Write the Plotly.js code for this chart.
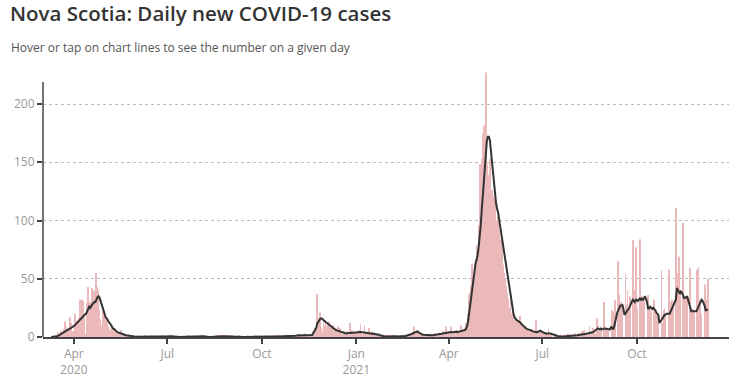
<!DOCTYPE html>
<html>
<head>
<meta charset="utf-8">
<script src="https://cdn.plot.ly/plotly-3.0.1.min.js"></script>
<style>
  html, body { margin: 0; padding: 0; background: #fff; }
  #chart { width: 756px; height: 388px; }
</style>
</head>
<body>
<div id="chart"></div>
<script>
// ---- Data (daily new cases & 7-day average), Nova Scotia ----
const startDate = '2020-03-10';

const cases2020Mar = [0,0,0,0,0,1,2,4,2,5,6,3,7,13,9,7,5,6,17,12,5,5];
const cases2020Apr = [5,20,10,14,3,17,32,17,32,31,20,2,3,29,43,27,30,25,42,24,40,36,55,43,40,23,15,10,23,19];
const cases2020May = [12,17,14,9,7,6,6,10,3,7,4,5,1,3,3,2,6,0,1,3,0,1,2,0,1,2,1,0,1,0,0];
const cases2020Jun = [0,1,0,0,0,0,0,0,1,0,0,0,0,0,0,0,0,0,0,0,0,0,0,0,0,1,0,0,0,0];
const cases2020Jul = [1,0,2,1,0,1,0,0,0,0,0,0,0,0,0,0,0,0,0,0,1,0,0,0,0,0,0,0,0,0,0];
const cases2020Aug = [0,1,2,1,1,0,0,0,0,0,0,0,0,0,0,0,0,1,0,2,1,0,1,0,0,1,0,1,0,0,1];
const cases2020Sep = [0,1,0,0,0,0,0,0,1,0,0,0,0,0,0,0,1,0,0,0,0,0,0,0,1,0,0,0,0,0];
const cases2020Oct = [0,0,0,0,0,0,0,0,0,0,0,0,0,1,0,0,2,0,1,0,0,1,0,1,0,0,1,0,0,2,0];
const cases2020Nov = [1,0,2,1,0,3,2,1,0,2,1,3,2,1,0,2,1,3,2,5,4,8,6,37,16,10,21,8,5,16];
const cases2020Dec = [10,15,9,11,13,3,8,7,10,5,2,7,4,9,3,8,4,1,2,5,2,3,5,2,1,12,3,6,2,4,4];
const cases2021Jan = [3,5,4,6,11,3,2,4,10,3,2,4,8,2,3,5,1,4,2,3,1,2,3,0,1,1,0,2,1,0,1];
const cases2021Feb = [0,1,0,1,0,1,0,1,0,1,0,1,0,1,0,2,1,0,2,1,3,2,3,4,5,9,2,3];
const cases2021Mar = [4,6,2,2,1,1,3,1,2,1,1,2,0,1,3,1,2,3,1,2,1,3,4,2,3,5,2,3,9,4,3];
const cases2021Apr = [4,3,9,2,4,5,3,6,2,4,5,3,10,2,6,7,8,12,12,20,36,38,44,63,52,63,67,79,74,96];
const cases2021May = [148,95,153,175,181,182,227,148,139,124,153,113,126,121,114,119,100,92,104,92,77,84,78,62,55,50,44,38,33,25,31];
const cases2021Jun = [20,22,19,16,15,12,13,14,18,11,8,9,8,5,9,7,4,5,6,3,7,3,5,4,15,2,2,4,6,3];
const cases2021Jul = [5,3,2,2,4,3,7,1,3,2,0,1,2,0,1,0,1,0,2,1,0,1,2,0,1,3,0,1,2,1,0];
const cases2021Aug = [0,3,1,2,1,3,2,1,5,2,6,2,1,3,1,9,3,5,8,4,3,2,16,10,4,5,9,0,0,30,3];
const cases2021Sep = [7,8,6,0,0,0,23,15,21,32,0,0,65,36,26,30,25,0,0,54,28,40,22,35,0,0,83,40,33,77];
const cases2021Oct = [25,0,0,84,30,35,28,32,0,0,0,36,20,25,22,0,0,32,18,21,19,17,0,0,57,12,23,25,19,0,0];
const cases2021Nov = [58,24,30,32,28,0,0,111,55,32,69,37,0,0,98,30,33,35,32,0,0,59,22,20,24,21,0,0,58,60];
const cases2021Dec = [32,28,20,0,0,45,32,24,50];

const avg2020Mar = [0,0,0,0,0,0.1,0.6,1.1,1.7,2.3,2.9,3.4,4,4.6,5.3,6,6.3,6.7,7.1,7.6,8.1,8.6];
const avg2020Apr = [9,10,11,12,13,14,15,16,17,17.5,18.5,19.5,20,22,24,26,25,27,28,29,30,30,33,34,35,34,31,28,24,21];
const avg2020May = [19,17,16,14,13,12,10,9,7.5,7,6,5,4.5,4,3.6,3.3,3,2.6,2.3,2,1.7,1.5,1.3,1.2,1.1,1,0.9,0.7,0.6,0.4,0.3];
const avg2020Jun = [0.3,0.3,0.3,0.2,0.2,0.2,0.1,0.1,0.1,0.1,0.1,0.1,0.1,0.1,0.1,0.1,0,0,0,0,0,0,0,0,0,0.1,0.1,0.1,0.1,0.1];
const avg2020Jul = [0.3,0.3,0.6,0.7,0.7,0.8,0.7,0.6,0.4,0.3,0.2,0.1,0.1,0,0,0,0,0,0,0,0.1,0.1,0.1,0.1,0.1,0.1,0.1,0,0,0,0];
const avg2020Aug = [0,0.1,0.4,0.6,0.7,0.7,0.7,0.7,0.6,0.3,0.1,0,0,0,0,0,0,0.1,0.1,0.4,0.6,0.6,0.7,0.7,0.7,0.7,0.7,0.7,0.6,0.6,0.4];
const avg2020Sep = [0.4,0.4,0.4,0.3,0.3,0.3,0.1,0.1,0.1,0.1,0.1,0.1,0.1,0.1,0,0,0.1,0.1,0.1,0.1,0.1,0.1,0.1,0,0.1,0.1,0.1,0.1,0.1,0.1];
const avg2020Oct = [0.1,0,0,0,0,0,0,0,0,0,0,0,0,0.1,0.1,0.1,0.4,0.4,0.6,0.6,0.6,0.7,0.7,0.6,0.7,0.6,0.7,0.6,0.6,0.7,0.7];
const avg2020Nov = [0.9,1,1.1,1.3,1.3,1.4,1.4,1.3,1.3,1.3,1.4,1.4,1.6,1.6,1.4,1.5,1.5,1.6,1.7,3,4.6,6,8,11.7,13.5,15,15.8,16,15.5,14.5];
const avg2020Dec = [13.7,13,12.3,11.7,11,10,8.9,8.2,7.5,6.9,6.4,6,5.7,5.4,5,4.7,4.3,4,3.7,3.4,3.2,3.1,3.2,3.3,3.5,3.6,3.7,3.8,3.9,4,4];
const avg2021Jan = [4,4.1,4.2,4.3,4.3,4.2,4.1,4,3.9,3.7,3.6,3.5,3.4,3.3,3.2,3.1,3.1,2.9,2.7,2.5,2.4,2.3,1.9,1.5,1.1,0.9,0.8,0.7,0.6,0.6,0.6];
const avg2021Feb = [0.6,0.6,0.5,0.6,0.5,0.6,0.5,0.5,0.6,0.5,0.6,0.5,0.6,0.5,0.5,0.7,0.8,0.9,1.1,1.3,1.5,1.8,2,2.3,2.9,3.5,4,4.3];
const avg2021Mar = [4.6,4.4,3.8,2.9,2.5,2.1,1.9,1.8,1.7,1.4,1.2,1.1,1.1,1.2,1.4,1.5,1.6,1.8,1.7,1.7,2,2.3,2.5,2.6,2.8,3,3.2,3.5,3.7,3.9,4];
const avg2021Apr = [4,4,4.3,4.1,4.3,4.4,4.2,4.4,4.5,4.3,4.5,4.6,5,5,5.1,5.5,6,7.4,10,15,22,30,40,47,52,58,63,66,70,77];
const avg2021May = [84,95,108,120,135,147,158,168,172,172,169,160,150,139,128,120,115,110,107,101,95,90,84,78,73,68,63,55,48,41,35];
const avg2021Jun = [29,24,20,17,15.5,14.5,14,13.5,13,12,11,10,9,8,7.5,7,6.5,6,6,5.5,5.2,4.8,4.5,4.2,4,4,4.6,5.2,5.4,4.8];
const avg2021Jul = [4.2,3.7,3.3,3,3,3.2,3.3,3,3,2.6,2.2,1.9,1.5,1.2,1,0.9,0.7,0.5,0.3,0.3,0.3,0.4,0.4,0.5,0.6,0.7,0.8,0.9,1,1.1,1.1];
const avg2021Aug = [1,1.2,1.4,1.6,1.8,2,2.3,2.3,2.4,2.4,2.3,2.5,2.6,2.6,3,3.3,3.6,3.8,4,4.5,5,5.8,6.6,7.4,7,6.6,7,6.5,6.8,7.2,7.4];
const avg2021Sep = [7,7,7,6.5,6.5,9,8,6.6,9,13,19,21,23,26,27,27,27.5,24,19,20,22,23,24,26,28,30,32,31,30,32];
const avg2021Oct = [32,31,32,33,32,33,32,33,35,33,30,24,25,26,25,24,25,24,23,21,20,19,12,13,14.6,16,18,19,19,20,20];
const avg2021Nov = [20,20,22,24,26.6,28,30,32,42,40,38,37,39,38,36,33,34,34,35,32,29,25,22,22,22,22,22,22,24,26];
const avg2021Dec = [27.5,30,32,31,29.5,27,23,23,24];

const tickDates = ['2020-04-01','2020-07-01','2020-10-01','2021-01-01','2021-04-01','2021-07-01','2021-10-01'];
const tickLabels = ['Apr<br>2020','Jul','Oct','Jan<br>2021','Apr','Jul','Oct'];
const yTicks = [0, 50, 100, 150, 200];

// ---- Assemble series ----
const dailyCases = [].concat(cases2020Mar, cases2020Apr, cases2020May, cases2020Jun, cases2020Jul,
  cases2020Aug, cases2020Sep, cases2020Oct, cases2020Nov, cases2020Dec, cases2021Jan, cases2021Feb,
  cases2021Mar, cases2021Apr, cases2021May, cases2021Jun, cases2021Jul, cases2021Aug, cases2021Sep,
  cases2021Oct, cases2021Nov, cases2021Dec);
const sevenDayAvg = [].concat(avg2020Mar, avg2020Apr, avg2020May, avg2020Jun, avg2020Jul,
  avg2020Aug, avg2020Sep, avg2020Oct, avg2020Nov, avg2020Dec, avg2021Jan, avg2021Feb,
  avg2021Mar, avg2021Apr, avg2021May, avg2021Jun, avg2021Jul, avg2021Aug, avg2021Sep,
  avg2021Oct, avg2021Nov, avg2021Dec);

const dates = [];
const t0 = Date.parse(startDate + 'T00:00:00Z');
for (let i = 0; i < dailyCases.length; i++) {
  dates.push(new Date(t0 + i * 86400000).toISOString().slice(0, 10));
}

const traces = [
  {
    type: 'bar',
    x: dates,
    y: dailyCases,
    marker: { color: '#ebb9ba', line: { width: 0 } },
    hoverinfo: 'x+y',
    name: 'Daily cases'
  },
  {
    type: 'scatter',
    mode: 'lines',
    x: dates,
    y: sevenDayAvg,
    line: { color: '#333333', width: 2 },
    hoverinfo: 'x+y',
    name: '7-day average'
  }
];

// The plot area reaches a bit above the y-axis line so the tallest bar is not cut.
const yTop = 227.5;       // top of plot area (data units)
const yAxisLineTop = 219; // where the drawn y-axis line stops

const layout = {
  width: 756,
  height: 388,
  margin: { l: 43, r: 27, t: 72, b: 51, pad: 0 },
  paper_bgcolor: '#ffffff',
  plot_bgcolor: '#ffffff',
  showlegend: false,
  bargap: 0.15,
  font: { family: 'Open Sans, sans-serif', color: '#999999', size: 12 },
  title: {
    text: 'Nova Scotia: Daily new COVID-19 cases',
    font: { family: 'Open Sans, sans-serif', size: 20.5, color: '#333333', weight: 600 },
    x: 10 / 756, xref: 'container', xanchor: 'left',
    y: 1 - 7 / 388, yref: 'container', yanchor: 'top'
  },
  annotations: [{
    text: 'Hover or tap on chart lines to see the number on a given day',
    xref: 'paper', yref: 'paper',
    x: (9 - 43) / 686, xanchor: 'left',
    y: (337 - 47) / 265, yanchor: 'middle',
    showarrow: false,
    font: { family: 'Open Sans, sans-serif', size: 12, color: '#555555' }
  }],
  shapes: [{
    type: 'line', xref: 'paper', yref: 'y',
    x0: 0, x1: 0, y0: 0, y1: yAxisLineTop,
    line: { color: '#444444', width: 1.5 },
    layer: 'above'
  }],
  xaxis: {
    type: 'date',
    range: ['2020-03-02', '2021-12-29 18:00'],
    tickmode: 'array',
    tickvals: tickDates,
    ticktext: tickLabels,
    ticks: 'outside',
    ticklen: 5,
    tickwidth: 1.5,
    tickcolor: '#444444',
    showline: true,
    linecolor: '#444444',
    linewidth: 1.5,
    showgrid: false,
    zeroline: false,
    tickfont: { size: 12, color: '#999999' },
    fixedrange: true
  },
  yaxis: {
    range: [0, yTop],
    tickmode: 'array',
    tickvals: yTicks,
    ticks: 'outside',
    ticklen: 5,
    tickwidth: 1.5,
    tickcolor: '#444444',
    showline: false,
    showgrid: true,
    gridcolor: '#bbbbbb',
    griddash: 'dot',
    gridwidth: 1,
    zeroline: false,
    tickfont: { size: 12, color: '#999999' },
    fixedrange: true
  }
};

Plotly.newPlot('chart', traces, layout, { displayModeBar: false });
</script>
</body>
</html>
